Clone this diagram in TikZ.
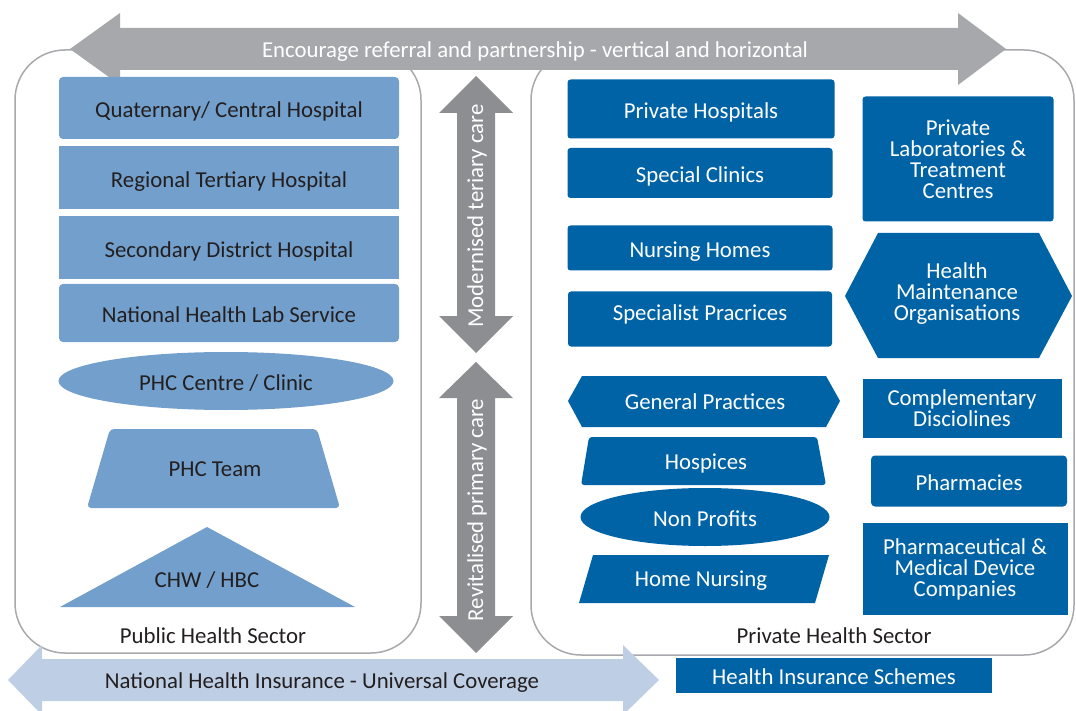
\documentclass[tikz,border=0pt]{standalone}
\usepackage{fontspec}
\setmainfont{Carlito}
\usetikzlibrary{shapes.geometric}
\definecolor{pubblue}{HTML}{729FCB}
\definecolor{privblue}{HTML}{0063A6}
\definecolor{lightgrey}{HTML}{A6A8AB}
\definecolor{midgrey}{HTML}{8D8E91}
\definecolor{paleblue}{HTML}{BECFE5}
\definecolor{darktext}{HTML}{231F20}
\definecolor{edgegrey}{HTML}{A7A9AC}

\begin{document}
\begin{tikzpicture}[x=1pt,y=-1pt,
    every node/.style={font=\fontsize{22.8}{21}\selectfont, inner sep=0pt, outer sep=0pt},
    pub/.style={fill=pubblue, text=darktext, text height=19pt, text depth=0pt},
    priv/.style={fill=privblue, text=white, align=center},
    oneline/.style={text height=19pt, text depth=0pt},
    sector/.style={draw=edgegrey, line width=1.5pt, rounded corners=50pt}]
                \useasboundingbox (0,0) rectangle (1076,711);
                \draw[sector] (15,50) rectangle (421,653);
                \draw[sector] (531,50) rectangle (1074,655);
                \fill[lightgrey] (70,49) -- (120,13) -- (120,28) -- (958,28) -- (958,13) -- (1006,49) -- (958,85) -- (958,70) -- (120,70) -- (120,85) -- cycle;
                \node[text=white] (refer) at (535,52) {Encourage referral and partnership - vertical and horizontal};
                \fill[midgrey] (476,76) -- (513,113) -- (495,113) -- (495,316) -- (513,316) -- (476,353) -- (439,316) -- (457,316) -- (457,113) -- (439,113) -- cycle;
                \node[rotate=90, text=white] (tertiary) at (477,216) {Modernised teriary care};
                \fill[midgrey] (476,362) -- (513,398) -- (495,398) -- (495,616) -- (513,616) -- (476,653) -- (439,616) -- (457,616) -- (457,398) -- (439,398) -- cycle;
                \node[rotate=90, text=white] (primary) at (477,510) {Revitalised primary care};
                \fill[paleblue] (8,680) -- (42,645) -- (42,659) -- (623,659) -- (623,645) -- (659,680) -- (623,715) -- (623,701) -- (42,701) -- (42,715) -- cycle;
                \node[text=darktext] (nhi) at (322,683) {National Health Insurance - Universal Coverage};
                \node[pub, minimum width=340, minimum height=62, rounded corners=4pt] (quat) at (229,108) {Quaternary/ Central Hospital};
                \node[pub, minimum width=340, minimum height=63] (tert) at (229,178) {Regional Tertiary Hospital};
                \node[pub, minimum width=340, minimum height=63] (second) at (229,248) {Secondary District Hospital};
                \node[pub, minimum width=340, minimum height=58, rounded corners=4pt] (lab) at (229,313) {National Health Lab Service};
                \node[pub, ellipse, minimum width=335, minimum height=58] (phc) at (226,381) {PHC Centre / Clinic};
                \fill[pubblue, rounded corners=4pt] (110,429) -- (317,429) -- (340,508) -- (87,508) -- cycle;
                \node[text=darktext] (team) at (215,469) {PHC Team};
                \fill[pubblue] (207,527) -- (355,607) -- (60,607) -- cycle;
                \node[text=darktext] (chw) at (207,580) {CHW / HBC};
                \node[text=darktext] (public) at (213,636) {Public Health Sector};
                \node[priv, oneline, minimum width=267, minimum height=59, rounded corners=3pt] (hosp) at (701,109) {Private Hospitals};
                \node[priv, oneline, minimum width=265, minimum height=50, rounded corners=3pt] (clinic) at (700,173) {Special Clinics};
                \node[priv, oneline, minimum width=265, minimum height=45, rounded corners=3pt] (nursing) at (700,248) {Nursing Homes};
                \node[priv, text height=10pt, text depth=7pt, minimum width=264, minimum height=55, rounded corners=3pt] (special) at (700,319) {Specialist Pracrices};
                \fill[privblue] (568,401) -- (582,376) -- (826,376) -- (840,401) -- (826,427) -- (582,427) -- cycle;
                \node[text=white] (general) at (705,402) {General Practices};
                \fill[privblue, rounded corners=3pt] (589,437) -- (817,437) -- (826,485) -- (581,485) -- cycle;
                \node[text=white] (hospice) at (706,463) {Hospices};
                \node[priv, oneline, ellipse, minimum width=249, minimum height=58] (nonprofit) at (705,517) {Non Profits};
                \fill[privblue] (593,555) -- (829,555) -- (815,603) -- (579,603) -- cycle;
                \node[text=white] (home) at (701,581) {Home Nursing};
                \node[priv, minimum width=191, minimum height=125, rounded corners=3pt] (labs) at (958,159) {Private\\Laboratories \&\\Treatment\\Centres};
                \fill[privblue] (845,296) -- (878,233) -- (1039,233) -- (1072,296) -- (1039,358) -- (878,358) -- cycle;
                \node[text=white, align=center] (hmo) at (957,294) {Health\\Maintenance\\Organisations};
                \node[priv, minimum width=199, minimum height=59] (compl) at (962,408) {Complementary\\Disciolines};
                \node[priv, oneline, minimum width=196, minimum height=51, rounded corners=4pt] (pharm) at (969,481) {Pharmacies};
                \node[priv, minimum width=205, minimum height=92] (device) at (965,569) {Pharmaceutical \&\\Medical Device\\Companies};
                \node[text=darktext] (private) at (834,636) {Private Health Sector};
                \node[priv, oneline, minimum width=316, minimum height=35] (insure) at (834,675) {Health Insurance Schemes};
\end{tikzpicture}
\end{document}
